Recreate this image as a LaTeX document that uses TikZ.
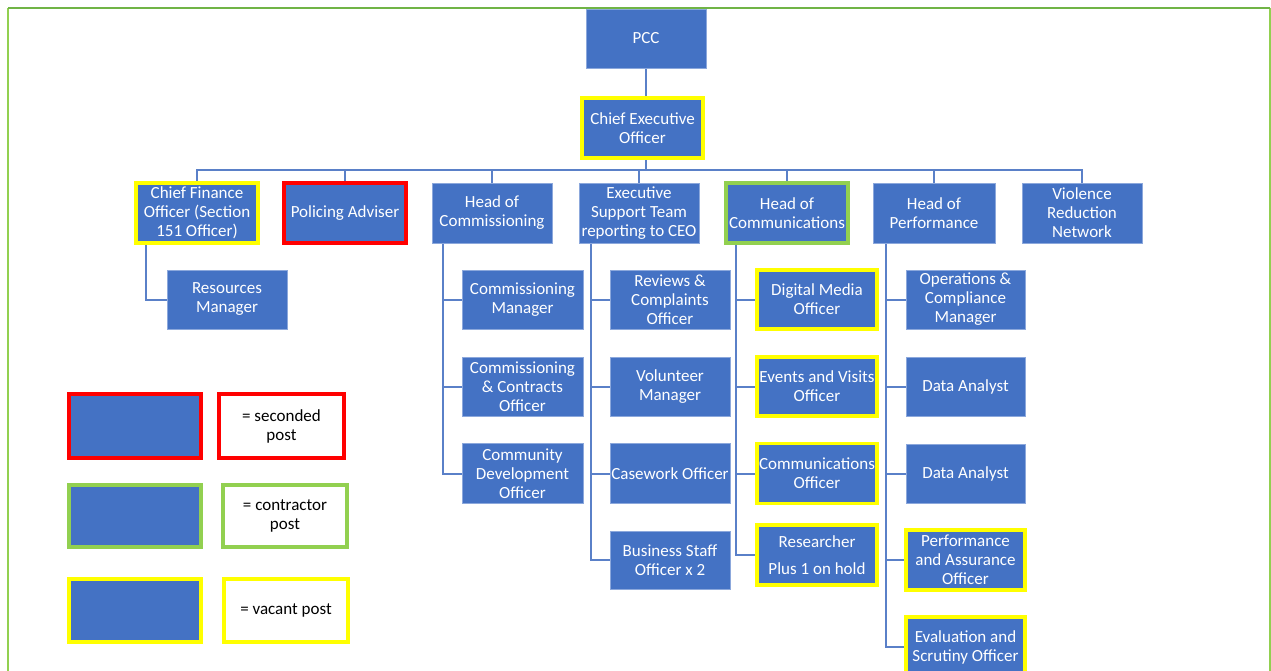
\documentclass[tikz,border=0pt]{standalone}
\usepackage{fontspec}
\setmainfont{Carlito}
\usetikzlibrary{calc,backgrounds}
\definecolor{ocblue}{RGB}{68,114,196}
\definecolor{ocedge}{RGB}{140,168,220}
\definecolor{ocline}{RGB}{90,128,200}
\definecolor{ocyellow}{RGB}{255,255,0}
\definecolor{ocred}{RGB}{255,0,0}
\definecolor{ocgreen}{RGB}{146,208,80}
\definecolor{octop}{RGB}{112,180,70}
\begin{document}
\begin{tikzpicture}[x=1pt,y=-1pt,
  box/.style={fill=ocblue, draw=ocedge, line width=0.8pt, text=white, align=center,
    inner sep=0pt, font=\fontsize{17}{19}\selectfont},
  vac/.style={draw=ocyellow, line width=3.5pt},
  sec/.style={draw=ocred, line width=3.5pt},
  con/.style={draw=ocgreen, line width=3.5pt},
  key/.style={fill=white, text=black, align=center, inner sep=0pt, font=\fontsize{17}{19}\selectfont},
  link/.style={draw=ocline, line width=2pt},
  frame/.style={draw=ocgreen, line width=1.5pt}
]
\useasboundingbox (0,0) rectangle (1271,671);
\draw[frame] (8,671) -- (8,8);
\draw[frame] (1270,8) -- (1270,671);
\draw[frame, draw=octop] (8,8) -- (1270,8);

% top
\node[box, minimum width=120, minimum height=59] (pcc) at (646,38.5) {PCC};
\node[box, vac, minimum width=121, minimum height=60] (ceo) at (642.5,128) {Chief Executive\\Officer};

% level 2
\node[box, vac, minimum width=122, minimum height=60] (cfo) at (197,213) {Chief Finance\\Officer (Section\\151 Officer)};
\node[box, sec, minimum width=122, minimum height=60] (pol) at (345,213) {Policing Adviser};
\node[box, minimum width=120, minimum height=60] (hcom) at (492,213) {Head of\\Commissioning};
\node[box, minimum width=120, minimum height=60] (est) at (639,213) {Executive\\Support Team\\reporting to CEO};
\node[box, con, minimum width=122, minimum height=60] (hcomm) at (787,213) {Head of\\Communications};
\node[box, minimum width=122, minimum height=60] (hperf) at (934,213) {Head of\\Performance};
\node[box, minimum width=120, minimum height=60] (vrn) at (1082,213) {Violence\\Reduction\\Network};

% level 3
\node[box, minimum width=120, minimum height=59] (rm) at (227,299.5) {Resources\\Manager};

\node[box, minimum width=121, minimum height=59] (cm) at (522.5,299.5) {Commissioning\\Manager};
\node[box, minimum width=121, minimum height=59] (cco) at (522.5,386.5) {Commissioning\\\& Contracts\\Officer};
\node[box, minimum width=121, minimum height=60] (cdo) at (522.5,473.5) {Community\\Development\\Officer};

\node[box, minimum width=120, minimum height=59] (rco) at (670,299.5) {Reviews \&\\Complaints\\Officer};
\node[box, minimum width=120, minimum height=59] (vm) at (670,386.5) {Volunteer\\Manager};
\node[box, minimum width=120, minimum height=60] (cwo) at (670,473.5) {Casework Officer};
\node[box, minimum width=120, minimum height=58] (bso) at (670,560) {Business Staff\\Officer x 2};

\node[box, vac, minimum width=120, minimum height=59] (dmo) at (817,299.5) {Digital Media\\Officer};
\node[box, vac, minimum width=120, minimum height=59] (evo) at (817,386.5) {Events and Visits\\Officer};
\node[box, vac, minimum width=120, minimum height=60] (cmo) at (817,473.5) {Communications\\Officer};
\node[box, vac, minimum width=120, minimum height=60] (res) at (817,555) {Researcher\\[8pt]Plus 1 on hold};

\node[box, minimum width=119, minimum height=59] (ocm) at (965.5,299.5) {Operations \&\\Compliance\\Manager};
\node[box, minimum width=119, minimum height=59] (da1) at (965.5,386.5) {Data Analyst};
\node[box, minimum width=119, minimum height=59] (da2) at (965.5,473.5) {Data Analyst};
\node[box, vac, minimum width=119, minimum height=60] (pao) at (965.5,560) {Performance\\and Assurance\\Officer};
\node[box, vac, minimum width=119, minimum height=60] (eso) at (965.5,647) {Evaluation and\\Scrutiny Officer};

% legend
\node[box, sec, minimum width=132, minimum height=64] (lr) at (135,426) {};
\node[key, sec, minimum width=125, minimum height=64] (ls) at (281.5,426) {= seconded\\post};
\node[box, con, minimum width=132, minimum height=62] (lg) at (135,516) {};
\node[key, con, minimum width=124, minimum height=62] (lc) at (285,516) {= contractor\\post};
\node[box, vac, minimum width=132, minimum height=63] (ly) at (135,610.5) {};
\node[key, vac, minimum width=124, minimum height=63] (lv) at (286,610.5) {= vacant post};

% connectors
\begin{scope}[on background layer]
\coordinate (bus) at (646,170);
\path[link] (pcc.south) -- (pcc.south |- ceo.north);
\path[link] (bus |- ceo.south) -- (bus);
\path[link] (cfo.north) -- (cfo.north |- bus) -- (vrn.north |- bus) -- (vrn.north);
\foreach \n in {pol,hcom,est,hcomm,hperf}{
  \path[link] (\n.north |- bus) -- (\n.north);
}
\path[link] ($(cfo.south west)+(12,0)$) |- (rm.west);
\foreach \c in {cm,cco,cdo}{ \path[link] ($(hcom.south west)+(11,0)$) |- (\c.west); }
\foreach \c in {rco,vm,cwo,bso}{ \path[link] ($(est.south west)+(12,0)$) |- (\c.west); }
\foreach \c in {dmo,evo,cmo,res}{ \path[link] ($(hcomm.south west)+(12,0)$) |- (\c.west); }
\foreach \c in {ocm,da1,da2,pao,eso}{ \path[link] ($(hperf.south west)+(13,0)$) |- (\c.west); }
\end{scope}
\end{tikzpicture}
\end{document}
